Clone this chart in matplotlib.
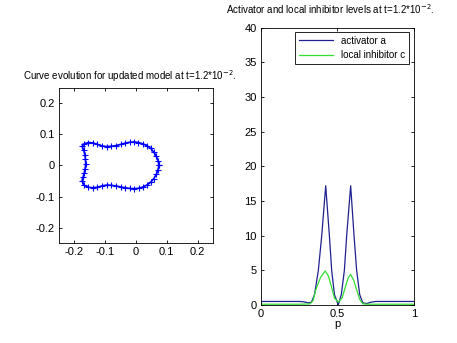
from matplotlib import pyplot as plt
import numpy as np

plt.rcParams['font.family'] = ['Liberation Sans', 'DejaVu Sans']
plt.rcParams['font.size'] = 8

# curve points (x, y), traced round the shape
curve_x = [0.075, 0.072, 0.066, 0.058, 0.048, 0.036, 0.022, 0.008, -0.006, -0.02,
           -0.035, -0.05, -0.065, -0.08, -0.095, -0.11, -0.125, -0.14, -0.155, -0.168,
           -0.175, -0.17, -0.166, -0.164, -0.163, -0.165, -0.168, -0.172, -0.175, -0.168,
           -0.155, -0.14, -0.125, -0.11, -0.095, -0.08, -0.065, -0.05, -0.035, -0.02,
           -0.005, 0.01, 0.024, 0.037, 0.049, 0.058, 0.066, 0.071, 0.075]
curve_y = [0.0, 0.015, 0.03, 0.043, 0.055, 0.064, 0.07, 0.074, 0.076, 0.075,
           0.072, 0.068, 0.064, 0.062, 0.061, 0.063, 0.068, 0.073, 0.074, 0.07,
           0.062, 0.05, 0.035, 0.02, 0.005, -0.01, -0.025, -0.038, -0.05, -0.064,
           -0.07, -0.072, -0.07, -0.066, -0.063, -0.064, -0.066, -0.069, -0.072, -0.074,
           -0.075, -0.073, -0.069, -0.062, -0.053, -0.042, -0.029, -0.015, 0.0]

# activator level along p
p_a = [0, 0.25, 0.28, 0.31, 0.33, 0.35, 0.375, 0.397, 0.423, 0.447, 0.462, 0.48,
       0.505, 0.525, 0.545, 0.56, 0.586, 0.608, 0.625, 0.645, 0.665, 0.69, 0.72, 0.75, 1.0]
act = [0.5, 0.5, 0.45, 0.3, 0.4, 1.5, 5.0, 10.0, 17.2, 10.0, 5.0, 1.5,
       0.0, 1.5, 5.0, 10.0, 17.2, 10.0, 5.0, 1.5, 0.3, 0.2, 0.4, 0.5, 0.5]

# local inhibitor level along p
p_c = [0, 0.25, 0.32, 0.34, 0.36, 0.39, 0.42, 0.44, 0.462, 0.48, 0.505,
       0.53, 0.55, 0.57, 0.586, 0.605, 0.625, 0.645, 0.665, 0.7, 1.0]
inh = [0.1, 0.1, 0.15, 0.6, 2.3, 4.0, 4.9, 4.2, 2.5, 1.0, 0.4,
       1.0, 2.5, 3.9, 4.4, 3.6, 2.2, 0.8, 0.15, 0.1, 0.1]

fig = plt.figure(figsize=(4.57, 3.43), dpi=100)

ax1 = fig.add_axes([0.129, 0.2915, 0.337, 0.452])
ax1.plot(curve_x, curve_y, '-', color='#0000ff', lw=1.2)
ax1.plot(curve_x, curve_y, '+', color='#0000ff', ms=5, mew=0.8)
ax1.set_xlim(-0.25, 0.25)
ax1.set_ylim(-0.25, 0.25)
ax1.set_xticks([-0.2, -0.1, 0, 0.1, 0.2])
ax1.set_xticklabels(['-0.2', '-0.1', '0', '0.1', '0.2'])
ax1.set_yticks([-0.2, -0.1, 0, 0.1, 0.2])
ax1.set_yticklabels(['-0.2', '-0.1', '0', '0.1', '0.2'])
ax1.tick_params(direction='in', top=True, right=True, length=2.5, width=0.6, pad=3)
ax1.set_title('Curve evolution for updated model at t=1.2*10$^{-2}$.', x=0.458, pad=6, fontsize=7)

ax2 = fig.add_axes([0.571, 0.111, 0.335, 0.808])
ax2.plot(p_a, act, color='#202090', lw=0.9, label='activator a')
ax2.plot(p_c, inh, color='#33dd33', lw=0.9, label='local inhibitor c')
ax2.set_xlim(0, 1)
ax2.set_ylim(0, 40)
ax2.set_xticks([0, 0.5, 1])
ax2.set_xticklabels(['0', '0.5', '1'])
ax2.set_yticks(range(0, 41, 5))
ax2.tick_params(direction='in', top=True, right=True, length=2.5, width=0.6, pad=3)
ax2.set_xlabel('p', labelpad=0)
ax2.set_title('Activator and local inhibitor levels at t=1.2*10$^{-2}$.', x=0.455, pad=10, fontsize=7)
leg = ax2.legend(loc='upper right', bbox_to_anchor=(0.967, 0.986), borderaxespad=0,
                 fancybox=False, edgecolor='black', framealpha=1, handlelength=3.5,
                 fontsize=7, borderpad=0.4, labelspacing=0.5)
leg.get_frame().set_linewidth(0.6)

for ax in (ax1, ax2):
    for s in ax.spines.values():
        s.set_linewidth(0.6)

fig.savefig('out.png', dpi=100)
